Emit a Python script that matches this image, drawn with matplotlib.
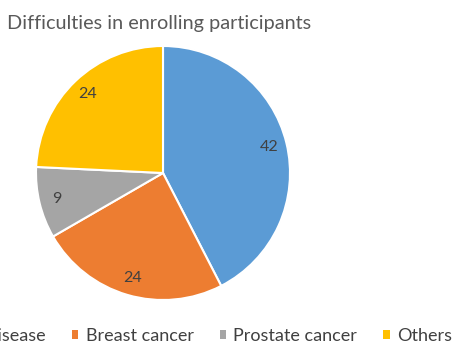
import matplotlib
matplotlib.use("Agg")
import matplotlib.pyplot as plt
from matplotlib.patches import Patch

plt.rcParams["font.family"] = ["Lato", "DejaVu Sans"]

# survey counts per disease area
categories = ["Cardiovascular disease", "Breast cancer", "Prostate cancer", "Others"]
counts = [42, 24, 9, 24]
colors = ["#5B9BD5", "#ED7D31", "#A5A5A5", "#FFC000"]

W, H = 457, 346
fig = plt.figure(figsize=(W / 100, H / 100), dpi=100)

# pie centred at (163, 173) px with radius 127 px
cx, cy, r = 163, 173, 127
ax = fig.add_axes([(cx - r) / W, (H - cy - r) / H, 2 * r / W, 2 * r / H])
wedges, texts = ax.pie(
    counts,
    colors=colors,
    startangle=90,
    counterclock=False,
    labels=[str(c) for c in counts],
    labeldistance=0.86,
    wedgeprops=dict(edgecolor="white", linewidth=1.5),
    textprops=dict(color="#404040", fontsize=11.5),
)
for t in texts:
    t.set_ha("center")
    t.set_va("center")
ax.set_xlim(-1, 1)
ax.set_ylim(-1, 1)
ax.set_aspect("equal")
ax.axis("off")

fig.text(7 / W, 1 - 24 / H, "Difficulties in enrolling participants",
         fontsize=14.3, color="#595959", ha="left", va="center")

handles = [Patch(facecolor=c, edgecolor="none", label=l) for c, l in zip(colors, categories)]
fig.legend(handles=handles, loc="center right", bbox_to_anchor=(452 / W, 1 - 336 / H),
           ncol=4, frameon=False, fontsize=13, handlelength=0.35, handleheight=0.35,
           handletextpad=0.4, columnspacing=1.45, borderpad=0, borderaxespad=0,
           labelcolor="#404040")

fig.savefig("out.png", dpi=100)
